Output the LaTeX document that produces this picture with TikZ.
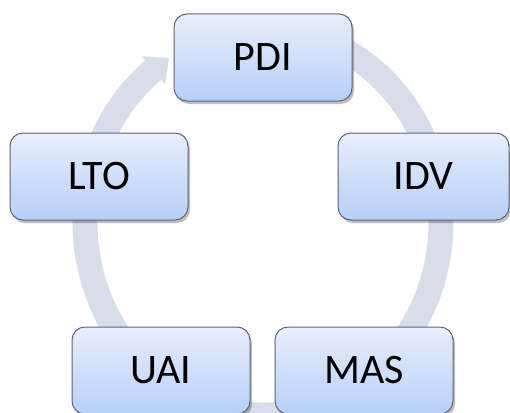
\documentclass[tikz,border=0pt]{standalone}
\usepackage{fontspec}
\setmainfont{Carlito}
\usetikzlibrary{shadows,calc}
\definecolor{ringc}{RGB}{216,221,234}
\definecolor{boxtop}{RGB}{232,238,252}
\definecolor{boxbot}{RGB}{183,207,248}
\definecolor{boxline}{RGB}{95,100,112}
\tikzset{
  cyclebox/.style={rounded corners=13pt, draw=boxline, line width=1pt,
    top color=boxtop, bottom color=boxbot,
    minimum width=178pt, minimum height=87pt, inner sep=0pt,
    font=\fontsize{42}{50}\selectfont, text=black,
    drop shadow={shadow xshift=2pt, shadow yshift=-3pt, opacity=0.25, fill=black}},
  ringband/.style={draw=ringc, line width=25pt},
  ringhead/.style={fill=ringc}
}
\begin{document}
\begin{tikzpicture}[x=1pt,y=1pt]
\useasboundingbox (0,0) rectangle (510,-412);
\coordinate (c) at (263,-222);
\coordinate (h1) at (141.8,-56.2);
\coordinate (h2) at (169.0,-58.0);
\coordinate (h3) at (165.0,-84.6);
\draw[ringband] ($(c)+(80:178pt and 193pt)$) arc[start angle=80, end angle=-232, x radius=178pt, y radius=193pt];
\fill[ringhead] (h1) -- (h2) -- (h3) -- cycle;
\node[cyclebox] (pdi) at (263,-57.5) {PDI};
\node[cyclebox] (lto) at (99,-176.5) {LTO};
\node[cyclebox, minimum width=171pt] (idv) at (423.5,-176.5) {IDV};
\node[cyclebox] (uai) at (161,-370.5) {UAI};
\node[cyclebox] (mas) at (364,-370.5) {MAS};
\end{tikzpicture}
\end{document}
